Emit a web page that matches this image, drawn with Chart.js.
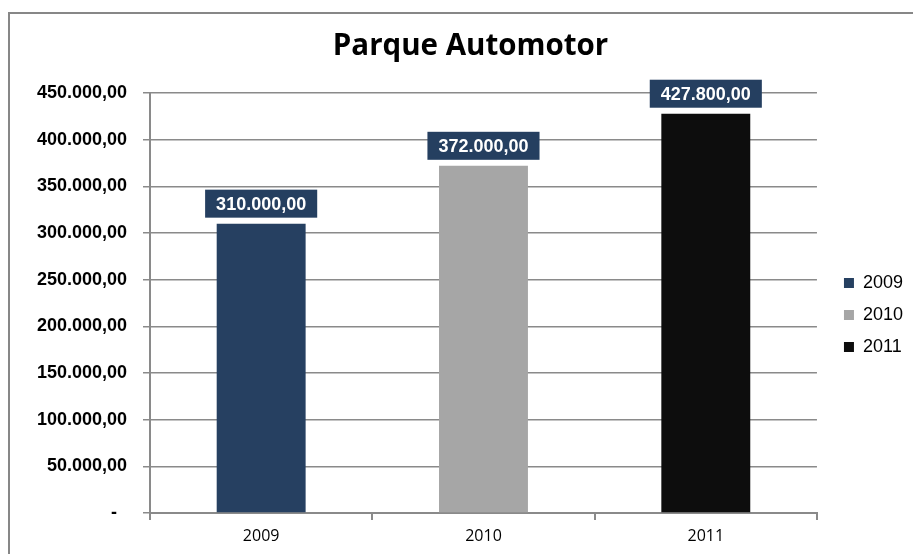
<!DOCTYPE html>
<html>
<head>
<meta charset="utf-8">
<title>Parque Automotor</title>
<script src="https://cdn.jsdelivr.net/npm/chart.js@4.4.1/dist/chart.umd.min.js"></script>
<style>
  html, body { margin: 0; padding: 0; background: #fff; }
  #wrap { position: relative; width: 913px; height: 554px; overflow: hidden; }
  #frame { position: absolute; left: 8px; top: 12px; width: 1000px; height: 700px;
           border-top: 2px solid #878787; border-left: 2px solid #878787; }
  #chart { position: absolute; left: 0; top: 0; }
</style>
</head>
<body>
<div id="wrap">
  <div id="frame"></div>
  <canvas id="chart" width="913" height="554"></canvas>
</div>
<script>
var years = ["2009", "2010", "2011"];
var vehicles = [310000, 372000, 427800];
var barColors = ["#264061", "#a6a6a6", "#0d0d0d"];
var labelBg = "#253f60";
var gridGray = "#8a8a8a";

// 310000 -> "310.000,00"
function fmt(v) {
  return Math.round(v).toString().replace(/\B(?=(\d{3})+(?!\d))/g, ".") + ",00";
}

// boxed value labels above each bar
var valueLabels = {
  id: "valueLabels",
  afterDatasetsDraw: function(chart) {
    var ctx = chart.ctx;
    var meta = chart.getDatasetMeta(0);
    ctx.save();
    ctx.font = "bold 18px 'Liberation Sans', Arial, sans-serif";
    ctx.textAlign = "center";
    ctx.textBaseline = "middle";
    meta.data.forEach(function(bar, i) {
      var text = fmt(vehicles[i]);
      var w = ctx.measureText(text).width + 22;
      var h = 28;
      var bottom = bar.y - 6;
      ctx.fillStyle = labelBg;
      ctx.fillRect(bar.x - w / 2, bottom - h, w, h);
      ctx.fillStyle = "#fff";
      ctx.fillText(text, bar.x, bottom - h / 2 + 1);
    });
    ctx.restore();
  }
};

new Chart(document.getElementById("chart"), {
  type: "bar",
  data: {
    labels: years,
    datasets: [{
      label: "Parque Automotor",
      data: vehicles,
      backgroundColor: barColors,
      borderWidth: 0,
      categoryPercentage: 1,
      barPercentage: 0.4
    }]
  },
  options: {
    responsive: false,
    animation: false,
    layout: { padding: { left: 28, top: 0, right: 0, bottom: 0 } },
    plugins: {
      title: {
        display: true,
        text: "Parque Automotor",
        color: "#000",
        font: { family: "'Open Sans', sans-serif", size: 29.5, weight: "bold", lineHeight: 1.2 },
        padding: { top: 29, bottom: 28.6 }
      },
      legend: {
        position: "right",
        fullSize: false,
        title: { display: true, text: " ", padding: 0, font: { size: 20, lineHeight: 1.2 } },
        labels: {
          boxWidth: 10,
          boxHeight: 10,
          padding: 14,
          color: "#000",
          font: { family: "'Liberation Sans', Arial, sans-serif", size: 18 },
          generateLabels: function() {
            return years.map(function(y, i) {
              return { text: y, fillStyle: barColors[i], strokeStyle: barColors[i], fontColor: "#000",
                       lineWidth: 0, hidden: false, index: i };
            });
          }
        },
        onClick: null
      },
      tooltip: { enabled: false }
    },
    scales: {
      x: {
        grid: { offset: true, drawOnChartArea: false, drawTicks: true, tickLength: 7, color: gridGray, lineWidth: 2 },
        border: { color: gridGray, width: 2 },
        ticks: { color: "#000", padding: 7, font: { family: "'Open Sans', sans-serif", size: 16 } },
        afterFit: function(s) { s.height = 41; }
      },
      y: {
        min: 0,
        max: 450000,
        ticks: {
          stepSize: 50000,
          color: "#000",
          padding: 16,
          font: { family: "'Liberation Sans', Arial, sans-serif", size: 18, weight: "bold" },
          callback: function(v) { return v === 0 ? "-  " : fmt(v); }
        },
        grid: { color: gridGray, lineWidth: 1.5, tickLength: 7 },
        border: { color: gridGray, width: 2 },
        afterFit: function(s) { s.width = 122; }
      },
      // empty spacer between plot and legend
      gap: {
        type: "linear",
        position: "right",
        display: true,
        grid: { display: false },
        border: { display: false },
        ticks: { display: false },
        afterFit: function(s) { s.width = 13; }
      }
    }
  },
  plugins: [valueLabels]
});
</script>
</body>
</html>
